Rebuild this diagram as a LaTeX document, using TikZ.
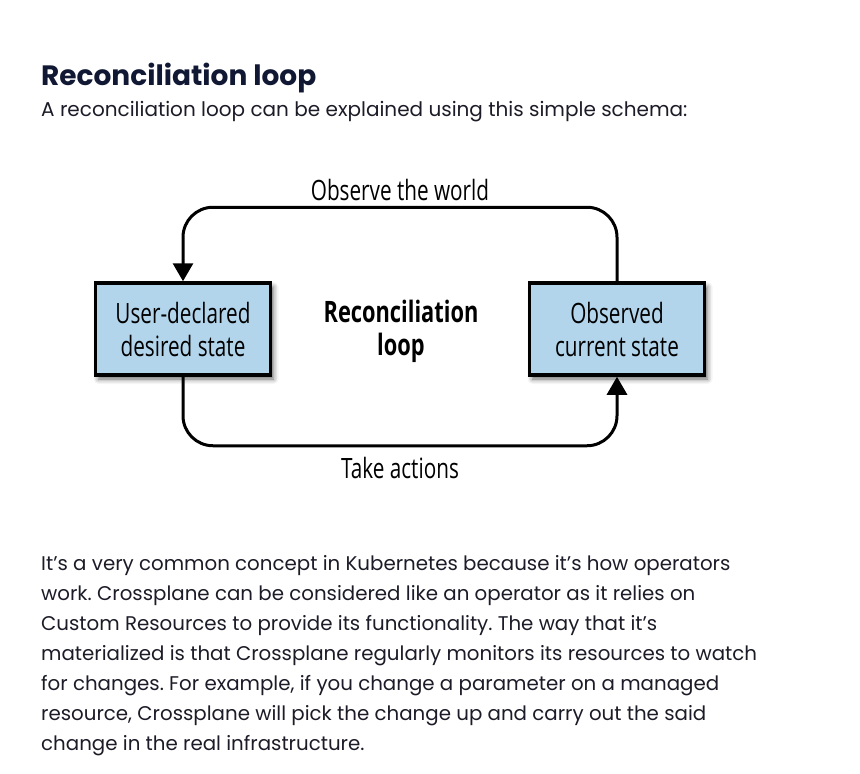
\documentclass[tikz,border=0pt]{standalone}
\usepackage{fontspec}
\setmainfont{Poppins}
\newfontfamily\diagfont[FakeStretch=0.74]{Open Sans}
\usepackage{xcolor}
\definecolor{navy}{HTML}{111833}
\definecolor{ink}{HTML}{1C1C28}
\definecolor{boxblue}{HTML}{B2D5EC}
\usepackage{tikz}
\usetikzlibrary{arrows.meta,positioning,shadows.blur}
\frenchspacing

\begin{document}
\begin{tikzpicture}[x=1pt, y=-1pt, >={Triangle[width=20pt,length=18pt]},
  statebox/.style={draw=black, line width=3.5pt, fill=boxblue, minimum width=175pt,
    minimum height=92pt, align=center, font=\diagfont\fontsize{28}{33}\selectfont,
    blur shadow={shadow xshift=3pt, shadow yshift=-4pt, shadow blur radius=5pt, shadow opacity=60}},
  flow/.style={line width=3pt, rounded corners=30pt},
  caption/.style={font=\diagfont\fontsize{28}{33}\selectfont},
  para/.style={anchor=base west, inner sep=0pt, text=ink, font=\fontsize{19.8}{30}\selectfont}]

  \useasboundingbox (0,0) rectangle (860,774);

  \node[anchor=base west, inner sep=0pt, text=navy, font=\bfseries\fontsize{28}{32}\selectfont]
    (title) at (41,85) {Reconciliation loop};
  \node[para, font=\fontsize{20}{24}\selectfont] (intro) at (41,116)
    {A reconciliation loop can be explained using this simple schema:};

  % the two states
  \node[statebox] (desired) at (183,329) {User-declared\\desired state};
  \node[statebox] (current) at (617,329) {Observed\\current state};
  \node[align=center, font=\diagfont\bfseries\fontsize{29.5}{33}\selectfont] (loop) at (401,331)
    {Reconciliation\\loop};

  \draw[flow, ->] (current.north) -- ++(0,-74) -| (desired.north);
  \draw[flow, ->] (desired.south) -- ++(0,69) -| (current.south);
  \node[caption] (observe) at (400,190) {Observe the world};
  \node[caption] (act) at (400,468) {Take actions};

  % paragraph below
  \node[para] (l1) at (41,570) {It’s a very common concept in Kubernetes because it’s how operators};
  \node[para] (l2) at (41,600) {work. Crossplane can be considered like an operator as it relies on};
  \node[para] (l3) at (41,630) {Custom Resources to provide its functionality. The way that it’s};
  \node[para] (l4) at (41,660) {materialized is that Crossplane regularly monitors its resources to watch};
  \node[para] (l5) at (41,690) {for changes. For example, if you change a parameter on a managed};
  \node[para] (l6) at (41,720) {resource, Crossplane will pick the change up and carry out the said};
  \node[para] (l7) at (41,750) {change in the real infrastructure.};

\end{tikzpicture}
\end{document}
